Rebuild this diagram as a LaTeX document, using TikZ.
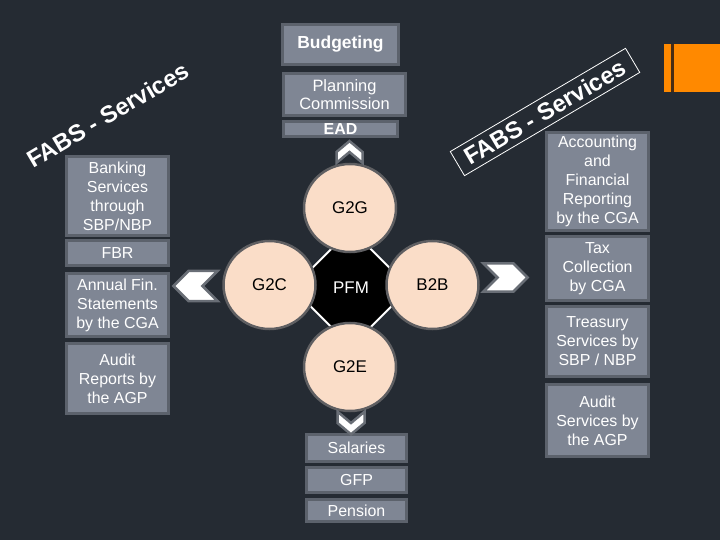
\documentclass[tikz,border=0pt]{standalone}
\usepackage{fontspec}
\setmainfont{Liberation Sans}
\usetikzlibrary{shapes.geometric,shapes.symbols}

\definecolor{bgdark}{RGB}{37,43,51}
\definecolor{boxfill}{RGB}{127,134,148}
\definecolor{boxedge}{RGB}{92,98,108}
\definecolor{peach}{RGB}{250,221,200}
\definecolor{ringgray}{RGB}{95,95,98}
\definecolor{chevedge}{RGB}{105,110,118}
\definecolor{orangebar}{RGB}{255,137,0}
\definecolor{stripe}{RGB}{72,44,20}

\tikzset{
  panel/.style={draw=boxedge, fill=boxfill, line width=3bp, text=white, align=center,
    inner sep=0pt, font=\fontsize{16}{19}\selectfont},
  hub/.style={ellipse, draw=ringgray, fill=peach, line width=2.5bp, inner sep=0pt,
    minimum width=92bp, minimum height=88bp, font=\fontsize{17}{20}\selectfont},
  chevron/.style={signal, signal from=west, signal to=east, draw=chevedge, fill=white,
    line width=2.5bp, inner sep=0pt},
  fabs/.style={text=white, font=\bfseries\fontsize{24}{28}\selectfont, rotate=30.5}
}

\begin{document}
\begin{tikzpicture}[x=1bp, y=-1bp]
    % Background and page frame
    \fill[bgdark] (0,0) rectangle (720,540);
    \useasboundingbox (0,0) rectangle (720,540);

    % Orange tab at the top right
    \fill[orangebar] (664,44) rectangle (720,92);
    \fill[stripe] (671,44) rectangle (674,92);

    % Rotated titles
    \node[fabs] (fabsleft) at (108,115) {FABS - Services};
    \node[fabs, draw=white, line width=0.8bp, minimum height=28bp, inner xsep=10bp]
        (fabsright) at (545,112) {FABS - Services};

    % Top column
    \node[panel, minimum width=116bp, minimum height=40bp, font=\bfseries\fontsize{17.5}{20}\selectfont]
        (budget) at (340.5,44.5) {Budgeting};
    \node[panel, minimum width=122bp, minimum height=42bp, font=\fontsize{16.5}{18}\selectfont]
        (planning) at (344.5,94.5) {Planning\\Commission};
    \node[panel, minimum width=114bp, minimum height=15bp, font=\bfseries\fontsize{16}{18}\selectfont]
        (ead) at (340.5,129) {EAD};

    % Left column
    \node[panel, minimum width=102bp, minimum height=79bp] (banking) at (117.5,196)
        {Banking\\Services\\through\\SBP/NBP};
    \node[panel, minimum width=102bp, minimum height=25bp] (fbr) at (117.5,253) {FBR};
    \node[panel, minimum width=102bp, minimum height=63bp] (annual) at (117.5,305)
        {Annual Fin.\\Statements\\by the CGA};
    \node[panel, minimum width=102bp, minimum height=70bp] (auditrep) at (117.5,378.5)
        {Audit\\Reports by\\the AGP};

    % Right column
    \node[panel, minimum width=102bp, minimum height=98bp] (accounting) at (597.5,181.5)
        {Accounting\\and\\Financial\\Reporting\\by the CGA};
    \node[panel, minimum width=102bp, minimum height=64bp] (tax) at (597.5,268.5)
        {Tax\\Collection\\by CGA};
    \node[panel, minimum width=102bp, minimum height=70bp] (treasury) at (597.5,341.5)
        {Treasury\\Services by\\SBP / NBP};
    \node[panel, minimum width=102bp, minimum height=72bp] (auditsrv) at (597.5,420.5)
        {Audit\\Services by\\the AGP};

    % Bottom column
    \node[panel, minimum width=100bp, minimum height=27bp] (salaries) at (356.5,448) {Salaries};
    \node[panel, minimum width=100bp, minimum height=25bp] (gfp) at (356.5,480) {GFP};
    \node[panel, minimum width=100bp, minimum height=22bp] (pension) at (356.5,510.5) {Pension};

    % Centre octagon and the four circles
    \node[regular polygon, regular polygon sides=8, minimum size=90bp, inner sep=0pt,
        fill=black, draw=white, line width=2bp, text=white, font=\fontsize{17}{20}\selectfont]
        (pfm) at (351,288) {PFM};
    \node[hub] (g2g) at (350,208) {G2G};
    \node[hub] (g2c) at (269.5,285) {G2C};
    \node[hub] (b2b) at (432.5,285) {B2B};
    \node[hub] (g2e) at (350,367) {G2E};

    % Chevron markers
    \node[chevron, signal pointer angle=100, minimum width=20bp, minimum height=26bp, rotate=90]
        (upmark) at (349.5,152) {};
    \node[chevron, signal pointer angle=100, minimum width=20bp, minimum height=27bp, rotate=-90]
        (downmark) at (351,423) {};
    \node[chevron, minimum width=44bp, minimum height=28bp]
        (rightmark) at (505.5,277.5) {};
    \node[chevron, minimum width=44bp, minimum height=30bp, rotate=180]
        (leftmark) at (195.5,286) {};
\end{tikzpicture}
\end{document}
